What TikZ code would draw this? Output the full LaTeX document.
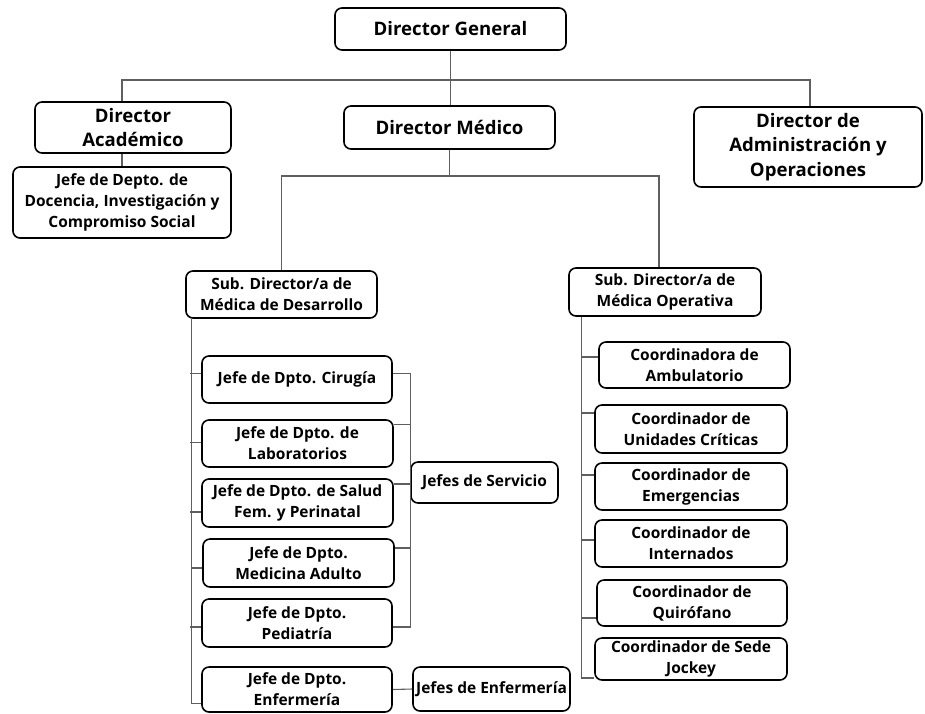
\documentclass[tikz,border=0pt]{standalone}
\usepackage{fontspec}
\setmainfont{Open Sans}
\usetikzlibrary{positioning,calc}
\definecolor{lnkgray}{RGB}{95,95,95}

\tikzset{
  box/.style={draw=black, line width=1.6pt, rounded corners=7pt, fill=white, align=center, inner sep=0pt,
    font=\bfseries\fontsize{15.5}{21}\selectfont},
  bigbox/.style={box, font=\bfseries\fontsize{18.6}{24.5}\selectfont},
  link/.style={draw=lnkgray, line width=1.1pt}
}

\begin{document}
\begin{tikzpicture}[x=1pt, y=-1pt]
  \useasboundingbox (0,0) rectangle (925,713);

  %--- top level ---
  \node[bigbox, minimum width=231pt, minimum height=42pt] (dirgen) at (450.5,29) {Director General};
  \node[bigbox, minimum width=196pt, minimum height=51pt] (diracad) at (133,127.5) {Director\\Académico};
  \node[bigbox, minimum width=211pt, minimum height=43pt] (dirmed) at (449.5,127.5) {Director Médico};
  \node[bigbox, minimum width=228pt, minimum height=80pt] (diradm) at (808,147) {Director de\\Administración y\\Operaciones};

  \node[box, minimum width=218pt, minimum height=71pt] (jefedoc) at (122,202.5) {Jefe de Depto. de\\Docencia, Investigación y\\Compromiso Social};

  \coordinate (busL) at (122,80);
  \coordinate (busR) at (810,80);
  \draw[link] (busL |- diracad.north) -- (busL) -- (busR) -- (busR |- diradm.north);
  \draw[link] (dirgen.south) -- (dirgen.south |- dirmed.north);
  \draw[link] (jefedoc.north) -- (jefedoc.north |- diracad.south);

  %--- sub directors ---
  \node[box, minimum width=191pt, minimum height=47pt] (subdes) at (281.5,294.5) {Sub. Director/a de\\Médica de Desarrollo};
  \node[box, minimum width=192pt, minimum height=48pt] (subope) at (665,292) {Sub. Director/a de\\Médica Operativa};

  \coordinate (medR) at (659,176);
  \draw[link] (dirmed.south) -- (dirmed.south |- medR);
  \draw[link] (subdes.north) |- (medR) -- (medR |- subope.north);

  %--- left branch ---
  \node[box, minimum width=190pt, minimum height=47pt] (cir) at (297,379.5) {Jefe de Dpto. Cirugía};
  \node[box, minimum width=191pt, minimum height=47pt] (lab) at (297.5,443.5) {Jefe de Dpto. de\\Laboratorios};
  \node[box, minimum width=191pt, minimum height=48pt] (salud) at (297.5,503) {Jefe de Dpto. de Salud\\Fem. y Perinatal};
  \node[box, minimum width=191pt, minimum height=48pt] (medad) at (298.5,563) {Jefe de Dpto.\\Medicina Adulto};
  \node[box, minimum width=190pt, minimum height=48pt] (ped) at (297,623) {Jefe de Dpto.\\Pediatría};
  \node[box, minimum width=190pt, minimum height=45pt] (enf) at (297,689.5) {Jefe de Dpto.\\Enfermería};

  \node[box, minimum width=147pt, minimum height=41pt] (jserv) at (484.5,482.5) {Jefes de Servicio};
  \node[box, minimum width=157pt, minimum height=44pt] (jenf) at (491.5,689) {Jefes de Enfermería};

  \coordinate (spL) at ([xshift=6pt]subdes.south west);
  \draw[link] (spL) |- ([yshift=-14pt]enf.west);
  \foreach \n/\dy in {cir/6, lab/1, salud/-9, medad/-5, ped/-4}
    \draw[link] ([yshift=\dy pt]\n.west) -- ++(-11,0);

  \draw[link] ([yshift=6pt]cir.east) -- ++(18,0) coordinate (brkT);
  \draw[link] ([yshift=-4pt]ped.east) -- ++(18,0) coordinate (brkB);
  \draw[link] (brkT) -- (brkB);
  \foreach \n/\dy/\l in {lab/19/17, salud/19/17, medad/15/16}
    \draw[link] ([yshift=\dy pt]\n.east) -- ++(\l,0);
  \draw[link] (enf.east) -- (jenf.west);

  %--- right branch ---
  \node[box, minimum width=191pt, minimum height=46pt] (camb) at (694.5,365) {Coordinadora de\\Ambulatorio};
  \node[box, minimum width=192pt, minimum height=48pt] (ccrit) at (691,429) {Coordinador de\\Unidades Críticas};
  \node[box, minimum width=192pt, minimum height=47pt] (cemer) at (691,486.5) {Coordinador de\\Emergencias};
  \node[box, minimum width=192pt, minimum height=47pt] (cint) at (691,543.5) {Coordinador de\\Internados};
  \node[box, minimum width=190pt, minimum height=46pt] (cquir) at (692,603) {Coordinador de\\Quirófano};
  \node[box, minimum width=192pt, minimum height=42pt] (csede) at (691,659) {Coordinador de Sede\\Jockey};

  \coordinate (spR) at ([xshift=13pt]subope.south west);
  \draw[link] (spR) |- ([yshift=-19pt]csede.west);
  \foreach \n/\dy/\l in {camb/8/17, ccrit/16/13, cemer/11.5/13, cint/3.5/13, cquir/-15/15}
    \draw[link] ([yshift=\dy pt]\n.west) -- ++(-\l,0);
\end{tikzpicture}
\end{document}
